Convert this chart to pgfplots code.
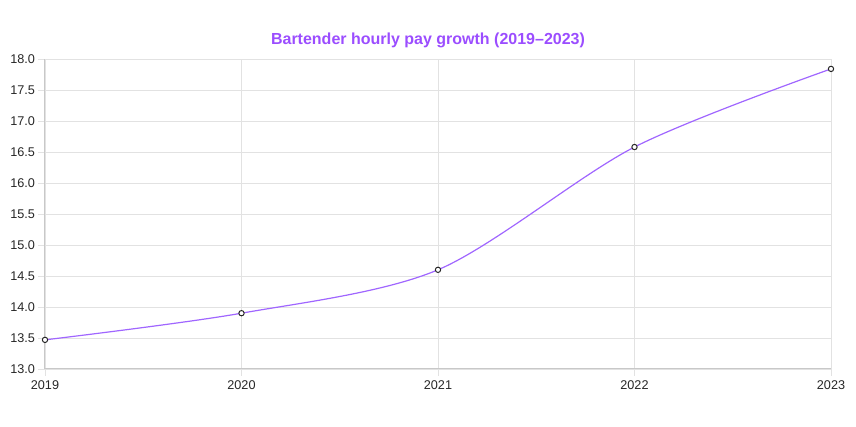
\documentclass[border=0pt]{standalone}
\usepackage{pgfplots}
\pgfplotsset{compat=1.18}
\usepackage{fontspec}
\setmainfont{Liberation Sans}
\definecolor{linec}{HTML}{A066FF}
\definecolor{titlec}{HTML}{9B4DFF}
\definecolor{gridc}{HTML}{E2E2E2}
\definecolor{axisc}{HTML}{C8C8C8}
\begin{document}
\begin{tikzpicture}
\useasboundingbox (-33.75pt,-43.5pt) rectangle (608.25pt,276.75pt);
\begin{axis}[
  at={(0,0)}, anchor=south west,
  scale only axis, width=589.5pt, height=232.5pt,
  xmin=2019, xmax=2023, ymin=13, ymax=18,
  xtick={2019,2020,2021,2022,2023},
  ytick={13,13.5,...,18},
  /pgf/number format/1000 sep={},
  /pgf/number format/assume math mode=true,
  yticklabel style={/pgf/number format/fixed,/pgf/number format/precision=1,/pgf/number format/fixed zerofill, font=\fontsize{9.5}{10}\selectfont, text=black!85, xshift=1pt},
  xticklabel style={font=\fontsize{9.5}{10}\selectfont, text=black!85},
  grid=major,
  major grid style={gridc, line width=0.6pt},
  axis x line*=bottom, axis y line*=left,
  axis line style={axisc, line width=0.75pt},
  tick style={gridc, line width=0.6pt},
  tick align=outside, major tick length=5pt,
  clip=false,
]
\addplot[linec, line width=0.9pt, smooth, tension=0.5,
  mark=*, mark size=2pt, mark options={fill=white, draw=black!85, line width=0.75pt}]
  coordinates {(2019,13.47) (2020,13.90) (2021,14.60) (2022,16.58) (2023,17.84)};
\end{axis}
\node[font=\bfseries\fontsize{12}{14}\selectfont, text=titlec] at (287.25pt,246.75pt) {Bartender hourly pay growth (2019–2023)};
\end{tikzpicture}
\end{document}
